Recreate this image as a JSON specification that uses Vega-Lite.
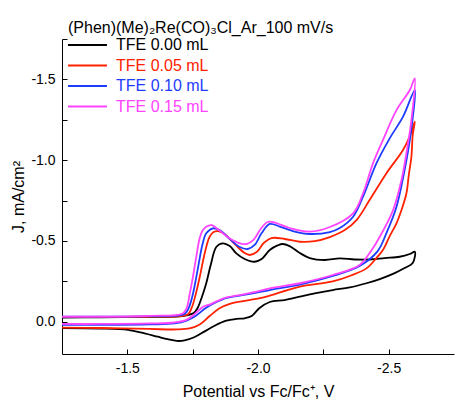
{
"$schema": "https://vega.github.io/schema/vega-lite/v6.json",
"width": 392, "height": 315,
"autosize": {"type": "none"},
"padding": {"left": 62, "top": 39, "right": 1, "bottom": 48},
"background": "white",
"config": {"view": {"stroke": null}, "font": "Liberation Sans"},
"title": {"text": "(Phen)(Me)₂Re(CO)₃Cl_Ar_100 mV/s", "anchor": "start", "frame": "group", "dx": 6, "offset": -12, "baseline": "alphabetic", "fontSize": 16, "fontWeight": "normal", "font": "Liberation Sans", "color": "#000000"},
"datasets": {
"cv": [
{"s":"TFE 0.00 mL","i":0,"E":-1.25,"J":-0.026},
{"s":"TFE 0.00 mL","i":1,"E":-1.394,"J":-0.027},
{"s":"TFE 0.00 mL","i":2,"E":-1.585,"J":-0.030},
{"s":"TFE 0.00 mL","i":3,"E":-1.712,"J":-0.035},
{"s":"TFE 0.00 mL","i":4,"E":-1.754,"J":-0.054},
{"s":"TFE 0.00 mL","i":5,"E":-1.769,"J":-0.085},
{"s":"TFE 0.00 mL","i":6,"E":-1.784,"J":-0.147},
{"s":"TFE 0.00 mL","i":7,"E":-1.802,"J":-0.238},
{"s":"TFE 0.00 mL","i":8,"E":-1.819,"J":-0.351},
{"s":"TFE 0.00 mL","i":9,"E":-1.841,"J":-0.464},
{"s":"TFE 0.00 mL","i":10,"E":-1.866,"J":-0.485},
{"s":"TFE 0.00 mL","i":11,"E":-1.892,"J":-0.468},
{"s":"TFE 0.00 mL","i":12,"E":-1.917,"J":-0.423},
{"s":"TFE 0.00 mL","i":13,"E":-1.949,"J":-0.388},
{"s":"TFE 0.00 mL","i":14,"E":-1.987,"J":-0.371},
{"s":"TFE 0.00 mL","i":15,"E":-2.014,"J":-0.388},
{"s":"TFE 0.00 mL","i":16,"E":-2.045,"J":-0.444},
{"s":"TFE 0.00 mL","i":17,"E":-2.075,"J":-0.472},
{"s":"TFE 0.00 mL","i":18,"E":-2.094,"J":-0.481},
{"s":"TFE 0.00 mL","i":19,"E":-2.121,"J":-0.468},
{"s":"TFE 0.00 mL","i":20,"E":-2.160,"J":-0.425},
{"s":"TFE 0.00 mL","i":21,"E":-2.198,"J":-0.394},
{"s":"TFE 0.00 mL","i":22,"E":-2.256,"J":-0.382},
{"s":"TFE 0.00 mL","i":23,"E":-2.313,"J":-0.392},
{"s":"TFE 0.00 mL","i":24,"E":-2.370,"J":-0.385},
{"s":"TFE 0.00 mL","i":25,"E":-2.427,"J":-0.385},
{"s":"TFE 0.00 mL","i":26,"E":-2.485,"J":-0.394},
{"s":"TFE 0.00 mL","i":27,"E":-2.542,"J":-0.402},
{"s":"TFE 0.00 mL","i":28,"E":-2.581,"J":-0.419},
{"s":"TFE 0.00 mL","i":29,"E":-2.600,"J":-0.433},
{"s":"TFE 0.00 mL","i":30,"E":-2.592,"J":-0.363},
{"s":"TFE 0.00 mL","i":31,"E":-2.561,"J":-0.332},
{"s":"TFE 0.00 mL","i":32,"E":-2.523,"J":-0.301},
{"s":"TFE 0.00 mL","i":33,"E":-2.466,"J":-0.264},
{"s":"TFE 0.00 mL","i":34,"E":-2.415,"J":-0.238},
{"s":"TFE 0.00 mL","i":35,"E":-2.351,"J":-0.212},
{"s":"TFE 0.00 mL","i":36,"E":-2.286,"J":-0.196},
{"s":"TFE 0.00 mL","i":37,"E":-2.217,"J":-0.175},
{"s":"TFE 0.00 mL","i":38,"E":-2.160,"J":-0.155},
{"s":"TFE 0.00 mL","i":39,"E":-2.102,"J":-0.134},
{"s":"TFE 0.00 mL","i":40,"E":-2.045,"J":-0.122},
{"s":"TFE 0.00 mL","i":41,"E":-2.006,"J":-0.085},
{"s":"TFE 0.00 mL","i":42,"E":-1.976,"J":-0.035},
{"s":"TFE 0.00 mL","i":43,"E":-1.949,"J":-0.021},
{"s":"TFE 0.00 mL","i":44,"E":-1.917,"J":-0.017},
{"s":"TFE 0.00 mL","i":45,"E":-1.879,"J":-0.006},
{"s":"TFE 0.00 mL","i":46,"E":-1.834,"J":0.025},
{"s":"TFE 0.00 mL","i":47,"E":-1.796,"J":0.060},
{"s":"TFE 0.00 mL","i":48,"E":-1.758,"J":0.095},
{"s":"TFE 0.00 mL","i":49,"E":-1.719,"J":0.116},
{"s":"TFE 0.00 mL","i":50,"E":-1.689,"J":0.119},
{"s":"TFE 0.00 mL","i":51,"E":-1.654,"J":0.108},
{"s":"TFE 0.00 mL","i":52,"E":-1.616,"J":0.093},
{"s":"TFE 0.00 mL","i":53,"E":-1.566,"J":0.073},
{"s":"TFE 0.00 mL","i":54,"E":-1.503,"J":0.051},
{"s":"TFE 0.00 mL","i":55,"E":-1.394,"J":0.042},
{"s":"TFE 0.00 mL","i":56,"E":-1.25,"J":0.039},
{"s":"TFE 0.05 mL","i":0,"E":-1.25,"J":-0.029},
{"s":"TFE 0.05 mL","i":1,"E":-1.585,"J":-0.032},
{"s":"TFE 0.05 mL","i":2,"E":-1.731,"J":-0.045},
{"s":"TFE 0.05 mL","i":3,"E":-1.746,"J":-0.085},
{"s":"TFE 0.05 mL","i":4,"E":-1.761,"J":-0.165},
{"s":"TFE 0.05 mL","i":5,"E":-1.777,"J":-0.277},
{"s":"TFE 0.05 mL","i":6,"E":-1.792,"J":-0.394},
{"s":"TFE 0.05 mL","i":7,"E":-1.804,"J":-0.475},
{"s":"TFE 0.05 mL","i":8,"E":-1.815,"J":-0.526},
{"s":"TFE 0.05 mL","i":9,"E":-1.830,"J":-0.555},
{"s":"TFE 0.05 mL","i":10,"E":-1.846,"J":-0.561},
{"s":"TFE 0.05 mL","i":11,"E":-1.872,"J":-0.543},
{"s":"TFE 0.05 mL","i":12,"E":-1.911,"J":-0.481},
{"s":"TFE 0.05 mL","i":13,"E":-1.949,"J":-0.425},
{"s":"TFE 0.05 mL","i":14,"E":-1.968,"J":-0.413},
{"s":"TFE 0.05 mL","i":15,"E":-1.995,"J":-0.431},
{"s":"TFE 0.05 mL","i":16,"E":-2.022,"J":-0.487},
{"s":"TFE 0.05 mL","i":17,"E":-2.052,"J":-0.518},
{"s":"TFE 0.05 mL","i":18,"E":-2.102,"J":-0.512},
{"s":"TFE 0.05 mL","i":19,"E":-2.160,"J":-0.495},
{"s":"TFE 0.05 mL","i":20,"E":-2.217,"J":-0.499},
{"s":"TFE 0.05 mL","i":21,"E":-2.275,"J":-0.524},
{"s":"TFE 0.05 mL","i":22,"E":-2.332,"J":-0.567},
{"s":"TFE 0.05 mL","i":23,"E":-2.377,"J":-0.629},
{"s":"TFE 0.05 mL","i":24,"E":-2.427,"J":-0.753},
{"s":"TFE 0.05 mL","i":25,"E":-2.491,"J":-0.918},
{"s":"TFE 0.05 mL","i":26,"E":-2.555,"J":-1.063},
{"s":"TFE 0.05 mL","i":27,"E":-2.581,"J":-1.149},
{"s":"TFE 0.05 mL","i":28,"E":-2.600,"J":-1.238},
{"s":"TFE 0.05 mL","i":29,"E":-2.592,"J":-1.155},
{"s":"TFE 0.05 mL","i":30,"E":-2.587,"J":-1.021},
{"s":"TFE 0.05 mL","i":31,"E":-2.577,"J":-0.908},
{"s":"TFE 0.05 mL","i":32,"E":-2.568,"J":-0.795},
{"s":"TFE 0.05 mL","i":33,"E":-2.549,"J":-0.691},
{"s":"TFE 0.05 mL","i":34,"E":-2.530,"J":-0.609},
{"s":"TFE 0.05 mL","i":35,"E":-2.504,"J":-0.530},
{"s":"TFE 0.05 mL","i":36,"E":-2.478,"J":-0.444},
{"s":"TFE 0.05 mL","i":37,"E":-2.453,"J":-0.394},
{"s":"TFE 0.05 mL","i":38,"E":-2.415,"J":-0.330},
{"s":"TFE 0.05 mL","i":39,"E":-2.351,"J":-0.283},
{"s":"TFE 0.05 mL","i":40,"E":-2.286,"J":-0.249},
{"s":"TFE 0.05 mL","i":41,"E":-2.160,"J":-0.217},
{"s":"TFE 0.05 mL","i":42,"E":-2.094,"J":-0.186},
{"s":"TFE 0.05 mL","i":43,"E":-2.032,"J":-0.155},
{"s":"TFE 0.05 mL","i":44,"E":-1.968,"J":-0.134},
{"s":"TFE 0.05 mL","i":45,"E":-1.930,"J":-0.124},
{"s":"TFE 0.05 mL","i":46,"E":-1.892,"J":-0.110},
{"s":"TFE 0.05 mL","i":47,"E":-1.853,"J":-0.083},
{"s":"TFE 0.05 mL","i":48,"E":-1.815,"J":-0.035},
{"s":"TFE 0.05 mL","i":49,"E":-1.777,"J":0.017},
{"s":"TFE 0.05 mL","i":50,"E":-1.738,"J":0.042},
{"s":"TFE 0.05 mL","i":51,"E":-1.688,"J":0.048},
{"s":"TFE 0.05 mL","i":52,"E":-1.585,"J":0.045},
{"s":"TFE 0.05 mL","i":53,"E":-1.394,"J":0.039},
{"s":"TFE 0.05 mL","i":54,"E":-1.25,"J":0.037},
{"s":"TFE 0.10 mL","i":0,"E":-1.25,"J":-0.031},
{"s":"TFE 0.10 mL","i":1,"E":-1.585,"J":-0.035},
{"s":"TFE 0.10 mL","i":2,"E":-1.719,"J":-0.048},
{"s":"TFE 0.10 mL","i":3,"E":-1.735,"J":-0.085},
{"s":"TFE 0.10 mL","i":4,"E":-1.750,"J":-0.165},
{"s":"TFE 0.10 mL","i":5,"E":-1.764,"J":-0.277},
{"s":"TFE 0.10 mL","i":6,"E":-1.777,"J":-0.394},
{"s":"TFE 0.10 mL","i":7,"E":-1.788,"J":-0.481},
{"s":"TFE 0.10 mL","i":8,"E":-1.802,"J":-0.547},
{"s":"TFE 0.10 mL","i":9,"E":-1.828,"J":-0.578},
{"s":"TFE 0.10 mL","i":10,"E":-1.853,"J":-0.567},
{"s":"TFE 0.10 mL","i":11,"E":-1.892,"J":-0.512},
{"s":"TFE 0.10 mL","i":12,"E":-1.930,"J":-0.462},
{"s":"TFE 0.10 mL","i":13,"E":-1.961,"J":-0.450},
{"s":"TFE 0.10 mL","i":14,"E":-1.987,"J":-0.475},
{"s":"TFE 0.10 mL","i":15,"E":-2.014,"J":-0.549},
{"s":"TFE 0.10 mL","i":16,"E":-2.045,"J":-0.605},
{"s":"TFE 0.10 mL","i":17,"E":-2.083,"J":-0.589},
{"s":"TFE 0.10 mL","i":18,"E":-2.140,"J":-0.558},
{"s":"TFE 0.10 mL","i":19,"E":-2.198,"J":-0.543},
{"s":"TFE 0.10 mL","i":20,"E":-2.275,"J":-0.555},
{"s":"TFE 0.10 mL","i":21,"E":-2.313,"J":-0.580},
{"s":"TFE 0.10 mL","i":22,"E":-2.364,"J":-0.650},
{"s":"TFE 0.10 mL","i":23,"E":-2.402,"J":-0.774},
{"s":"TFE 0.10 mL","i":24,"E":-2.453,"J":-0.980},
{"s":"TFE 0.10 mL","i":25,"E":-2.504,"J":-1.135},
{"s":"TFE 0.10 mL","i":26,"E":-2.555,"J":-1.269},
{"s":"TFE 0.10 mL","i":27,"E":-2.600,"J":-1.434},
{"s":"TFE 0.10 mL","i":28,"E":-2.591,"J":-1.248},
{"s":"TFE 0.10 mL","i":29,"E":-2.575,"J":-1.063},
{"s":"TFE 0.10 mL","i":30,"E":-2.561,"J":-0.939},
{"s":"TFE 0.10 mL","i":31,"E":-2.530,"J":-0.712},
{"s":"TFE 0.10 mL","i":32,"E":-2.493,"J":-0.555},
{"s":"TFE 0.10 mL","i":33,"E":-2.458,"J":-0.437},
{"s":"TFE 0.10 mL","i":34,"E":-2.389,"J":-0.345},
{"s":"TFE 0.10 mL","i":35,"E":-2.286,"J":-0.283},
{"s":"TFE 0.10 mL","i":36,"E":-2.160,"J":-0.230},
{"s":"TFE 0.10 mL","i":37,"E":-2.045,"J":-0.196},
{"s":"TFE 0.10 mL","i":38,"E":-1.980,"J":-0.175},
{"s":"TFE 0.10 mL","i":39,"E":-1.930,"J":-0.162},
{"s":"TFE 0.10 mL","i":40,"E":-1.880,"J":-0.147},
{"s":"TFE 0.10 mL","i":41,"E":-1.834,"J":-0.116},
{"s":"TFE 0.10 mL","i":42,"E":-1.800,"J":-0.085},
{"s":"TFE 0.10 mL","i":43,"E":-1.761,"J":-0.035},
{"s":"TFE 0.10 mL","i":44,"E":-1.727,"J":-0.007},
{"s":"TFE 0.10 mL","i":45,"E":-1.681,"J":0.011},
{"s":"TFE 0.10 mL","i":46,"E":-1.585,"J":0.017},
{"s":"TFE 0.10 mL","i":47,"E":-1.394,"J":0.020},
{"s":"TFE 0.10 mL","i":48,"E":-1.25,"J":0.020},
{"s":"TFE 0.15 mL","i":0,"E":-1.25,"J":-0.031},
{"s":"TFE 0.15 mL","i":1,"E":-1.585,"J":-0.036},
{"s":"TFE 0.15 mL","i":2,"E":-1.712,"J":-0.051},
{"s":"TFE 0.15 mL","i":3,"E":-1.727,"J":-0.085},
{"s":"TFE 0.15 mL","i":4,"E":-1.738,"J":-0.165},
{"s":"TFE 0.15 mL","i":5,"E":-1.751,"J":-0.277},
{"s":"TFE 0.15 mL","i":6,"E":-1.763,"J":-0.394},
{"s":"TFE 0.15 mL","i":7,"E":-1.777,"J":-0.518},
{"s":"TFE 0.15 mL","i":8,"E":-1.788,"J":-0.564},
{"s":"TFE 0.15 mL","i":9,"E":-1.802,"J":-0.588},
{"s":"TFE 0.15 mL","i":10,"E":-1.822,"J":-0.598},
{"s":"TFE 0.15 mL","i":11,"E":-1.853,"J":-0.564},
{"s":"TFE 0.15 mL","i":12,"E":-1.884,"J":-0.524},
{"s":"TFE 0.15 mL","i":13,"E":-1.922,"J":-0.490},
{"s":"TFE 0.15 mL","i":14,"E":-1.957,"J":-0.481},
{"s":"TFE 0.15 mL","i":15,"E":-1.983,"J":-0.506},
{"s":"TFE 0.15 mL","i":16,"E":-2.010,"J":-0.574},
{"s":"TFE 0.15 mL","i":17,"E":-2.037,"J":-0.617},
{"s":"TFE 0.15 mL","i":18,"E":-2.064,"J":-0.614},
{"s":"TFE 0.15 mL","i":19,"E":-2.121,"J":-0.580},
{"s":"TFE 0.15 mL","i":20,"E":-2.198,"J":-0.557},
{"s":"TFE 0.15 mL","i":21,"E":-2.275,"J":-0.586},
{"s":"TFE 0.15 mL","i":22,"E":-2.364,"J":-0.671},
{"s":"TFE 0.15 mL","i":23,"E":-2.402,"J":-0.795},
{"s":"TFE 0.15 mL","i":24,"E":-2.440,"J":-0.980},
{"s":"TFE 0.15 mL","i":25,"E":-2.478,"J":-1.124},
{"s":"TFE 0.15 mL","i":26,"E":-2.530,"J":-1.310},
{"s":"TFE 0.15 mL","i":27,"E":-2.581,"J":-1.434},
{"s":"TFE 0.15 mL","i":28,"E":-2.600,"J":-1.506},
{"s":"TFE 0.15 mL","i":29,"E":-2.587,"J":-1.248},
{"s":"TFE 0.15 mL","i":30,"E":-2.574,"J":-1.104},
{"s":"TFE 0.15 mL","i":31,"E":-2.549,"J":-0.877},
{"s":"TFE 0.15 mL","i":32,"E":-2.517,"J":-0.691},
{"s":"TFE 0.15 mL","i":33,"E":-2.466,"J":-0.526},
{"s":"TFE 0.15 mL","i":34,"E":-2.435,"J":-0.444},
{"s":"TFE 0.15 mL","i":35,"E":-2.389,"J":-0.351},
{"s":"TFE 0.15 mL","i":36,"E":-2.286,"J":-0.289},
{"s":"TFE 0.15 mL","i":37,"E":-2.160,"J":-0.238},
{"s":"TFE 0.15 mL","i":38,"E":-2.045,"J":-0.206},
{"s":"TFE 0.15 mL","i":39,"E":-1.980,"J":-0.181},
{"s":"TFE 0.15 mL","i":40,"E":-1.930,"J":-0.165},
{"s":"TFE 0.15 mL","i":41,"E":-1.880,"J":-0.150},
{"s":"TFE 0.15 mL","i":42,"E":-1.853,"J":-0.134},
{"s":"TFE 0.15 mL","i":43,"E":-1.815,"J":-0.106},
{"s":"TFE 0.15 mL","i":44,"E":-1.790,"J":-0.093},
{"s":"TFE 0.15 mL","i":45,"E":-1.758,"J":-0.048},
{"s":"TFE 0.15 mL","i":46,"E":-1.726,"J":-0.011},
{"s":"TFE 0.15 mL","i":47,"E":-1.681,"J":0.005},
{"s":"TFE 0.15 mL","i":48,"E":-1.585,"J":0.011},
{"s":"TFE 0.15 mL","i":49,"E":-1.394,"J":0.014},
{"s":"TFE 0.15 mL","i":50,"E":-1.25,"J":0.014}
]
},
"data": {"name": "cv"},
"mark": {"type": "line", "strokeWidth": 1.8, "interpolate": "catmull-rom", "clip": true},
"encoding": {
"x": {"field": "E", "type": "quantitative",
 "scale": {"domain": [-2.75, -1.25], "reverse": true, "nice": false, "zero": false},
 "axis": {"title": "Potential vs Fc/Fc⁺, V", "values": [-1.5, -1.75, -2, -2.25, -2.5],
  "labelExpr": "datum.value == -1.75 || datum.value == -2.25 ? '' : replace(format(datum.value, '.1f'), '−', '-')",
  "grid": false, "domainColor": "#000000", "domainWidth": 1, "tickColor": "#000000", "tickWidth": 1, "tickSize": -5,
  "labelPadding": 12, "labelFontSize": 14, "labelColor": "#000000", "labelFont": "Liberation Sans",
  "titleFontSize": 16, "titleFontWeight": "normal", "titleColor": "#000000", "titleFont": "Liberation Sans", "titlePadding": 8}},
"y": {"field": "J", "type": "quantitative",
 "scale": {"domain": [-1.75, 0.2], "reverse": true, "nice": false, "zero": false},
 "axis": {"title": "J, mA/cm²", "values": [-1.75, -1.5, -1.25, -1, -0.75, -0.5, -0.25, 0],
  "labelExpr": "datum.value == -1.75 || datum.value == -1.25 || datum.value == -0.75 || datum.value == -0.25 ? '' : replace(format(datum.value, '.1f'), '−', '-')",
  "grid": false, "domainColor": "#000000", "domainWidth": 1, "tickColor": "#000000", "tickWidth": 1, "tickSize": -5,
  "labelPadding": 12, "labelFontSize": 14, "labelColor": "#000000", "labelFont": "Liberation Sans",
  "titleFontSize": 16, "titleFontWeight": "normal", "titleColor": "#000000", "titleFont": "Liberation Sans", "titlePadding": 4}},
"color": {"field": "s", "type": "nominal",
 "scale": {"domain": ["TFE 0.00 mL", "TFE 0.05 mL", "TFE 0.10 mL", "TFE 0.15 mL"], "range": ["#000000", "#ff2200", "#1e3cff", "#ff44ff"]},
 "legend": {"orient": "none", "legendX": 22, "legendY": -2, "title": null, "symbolType": "M-3.7,0H2.3", "symbolSize": 169, "symbolStrokeWidth": 2,
  "labelFontSize": 16, "labelFont": "Liberation Sans", "labelOffset": 16, "rowPadding": 4.5, "padding": 0, "labelLimit": 0,
  "encode": {"labels": {"update": {"fill": {"scale": "color", "field": "value"}}}}}},
"order": {"field": "i", "type": "quantitative"}
}
}
